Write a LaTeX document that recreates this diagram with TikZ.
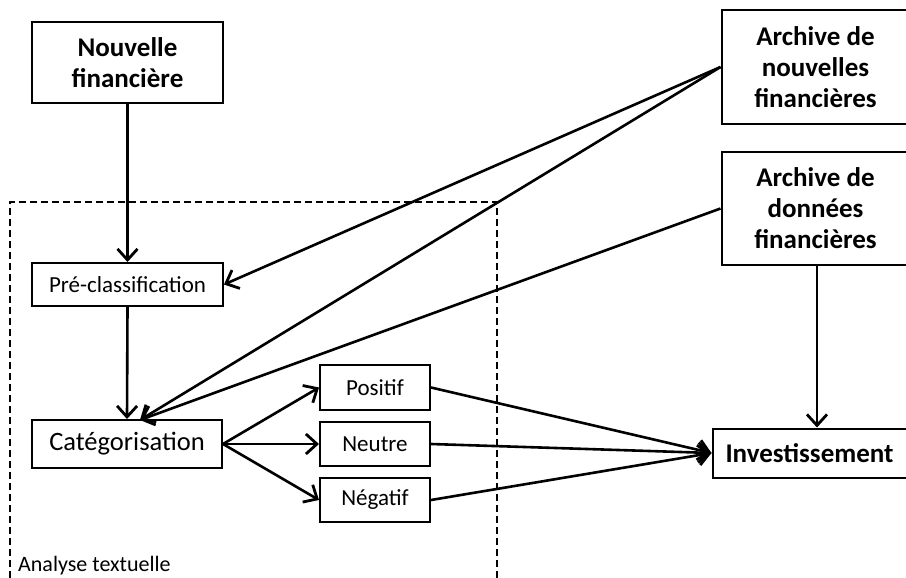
\documentclass[tikz,border=0pt]{standalone}
\usepackage{fontspec}
\setmainfont{Carlito}
\usetikzlibrary{arrows.meta}
\begin{document}
\begin{tikzpicture}[x=1pt,y=-1pt,
  box/.style={draw,line width=2pt,inner sep=0pt,align=center},
  bigbox/.style={box,font=\fontsize{27}{31}\selectfont\bfseries},
  smallbox/.style={box,font=\fontsize{23}{27}\selectfont},
  arr/.style={line width=2.6pt,-{Straight Barb[length=11pt,width=20pt,line width=2.8pt]}}]
\useasboundingbox (0,0) rectangle (906,578);
\fill[white] (0,0) rectangle (906,578);
% dashed region
\draw[line width=1.5pt,dash pattern=on 7pt off 4pt] (10,578) -- (10,202) -- (497,202) -- (497,578);
\node[anchor=base west,font=\fontsize{22}{26}\selectfont,inner sep=0pt] (lbl) at (18,571) {Analyse textuelle};
% nodes
\node[bigbox,minimum width=191pt,minimum height=81pt] (nf) at (127.5,62.5) {Nouvelle\\financière};
\node[smallbox,minimum width=191pt,minimum height=43pt] (pc) at (127.5,284.5) {Pré-classification};
\node[box,font=\fontsize{26.5}{31}\selectfont,minimum width=190pt,minimum height=48pt] (cat) at (127,444) {Catégorisation};
\node[smallbox,minimum width=110pt,minimum height=45pt] (pos) at (375,387.5) {Positif};
\node[smallbox,minimum width=110pt,minimum height=44pt] (neu) at (375,444) {Neutre};
\node[smallbox,minimum width=110pt,minimum height=44pt] (neg) at (375,500) {Négatif};
\node[bigbox,minimum width=194pt,minimum height=114pt,anchor=west] (an) at (720.5,67) {\hspace*{-6pt}Archive de\\\hspace*{-6pt}nouvelles\\\hspace*{-6pt}financières};
\node[bigbox,minimum width=194pt,minimum height=113pt,anchor=west] (ad) at (720.5,208.5) {\hspace*{-6pt}Archive de\\\hspace*{-6pt}données\\\hspace*{-6pt}financières};
\node[bigbox,minimum width=194pt,minimum height=49pt,anchor=west] (inv) at (711.5,453) {Investissement};
% connectors
\coordinate (catt) at (140,420);
\draw[arr] (nf.south) -- (pc.north);
\draw[arr] (pc.south) -- (cat.north);
\draw[arr] (an.west) -- (pc.east);
\draw[arr] (an.west) -- (catt);
\draw[arr] (ad.west) -- (catt);
\draw[arr] (ad.south -| 817,0) -- (inv.north -| 817,0);
\draw[arr] (cat.east) -- (pos.west);
\draw[arr] (cat.east) -- (neu.west);
\draw[arr] (cat.east) -- (neg.west);
\draw[arr] (pos.east) -- (inv.west);
\draw[arr] (neu.east) -- (inv.west);
\draw[arr] (neg.east) -- (inv.west);
\end{tikzpicture}
\end{document}
